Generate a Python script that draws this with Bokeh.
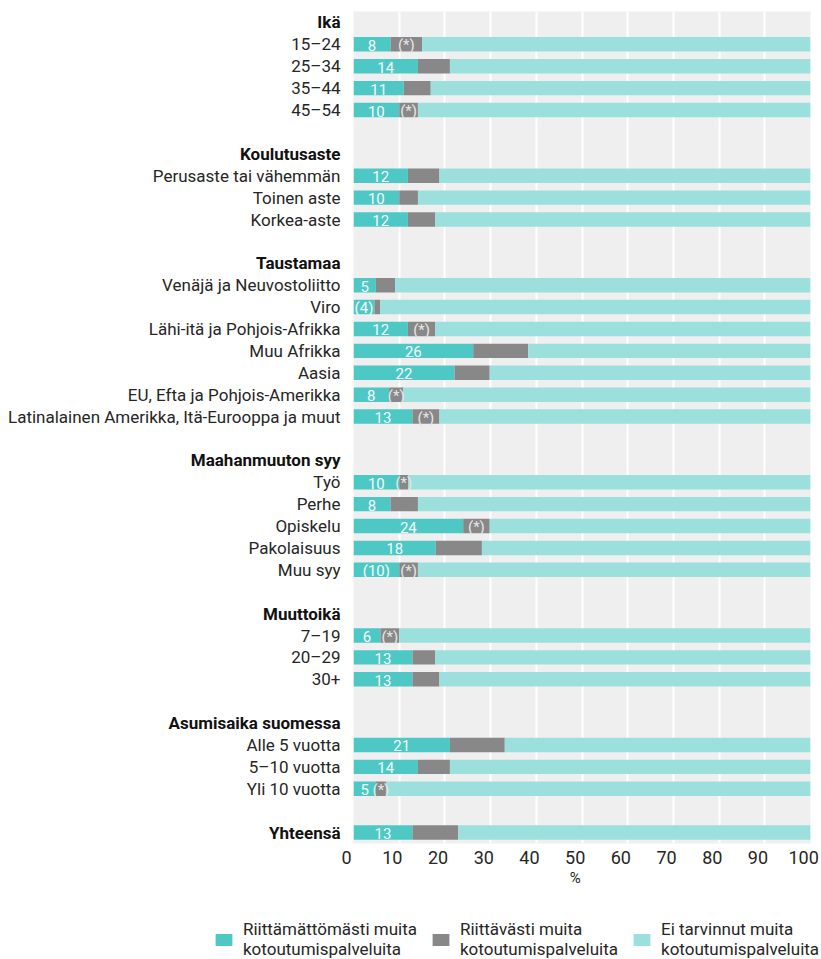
from bokeh.plotting import figure
from bokeh.models import (ColumnDataSource, Range1d, LinearAxis, FixedTicker,
                          Legend, LegendItem, Grid)
from bokeh.layouts import row, column
from bokeh.core.properties import value
from bokeh.embed import file_html
from bokeh.resources import INLINE

FONT = "Roboto"
C_INSUF = "#4ec8c4"
C_SUF = "#888888"
C_NONE = "#9be0dd"
TXT = "#262626"

series_names = ["Riittämättömästi muita\nkotoutumispalveluita",
                "Riittävästi muita\nkotoutumispalveluita",
                "Ei tarvinnut muita\nkotoutumispalveluita"]

x_ticks = [0, 10, 20, 30, 40, 50, 60, 70, 80, 90, 100]
x_unit = "%"

# ---- data (percent) ----
ika_title = "Ikä"
ika_items = ["15–24", "25–34", "35–44", "45–54"]
ika_insufficient = [8.1, 14.1, 11.0, 10.0]
ika_sufficient = [6.9, 7.0, 5.9, 4.1]
ika_not_needed = [85.0, 78.9, 83.1, 85.9]
ika_labels = ["8", "14", "11", "10"]
ika_flags = ["(*)", "", "", "(*)"]

koulutus_title = "Koulutusaste"
koulutus_items = ["Perusaste tai vähemmän", "Toinen aste", "Korkea-aste"]
koulutus_insufficient = [11.9, 10.0, 11.9]
koulutus_sufficient = [6.9, 4.1, 6.0]
koulutus_not_needed = [81.2, 85.9, 82.1]
koulutus_labels = ["12", "10", "12"]
koulutus_flags = ["", "", ""]

tausta_title = "Taustamaa"
tausta_items = ["Venäjä ja Neuvostoliitto", "Viro", "Lähi-itä ja Pohjois-Afrikka",
                "Muu Afrikka", "Aasia", "EU, Efta ja Pohjois-Amerikka",
                "Latinalainen Amerikka, Itä-Eurooppa ja muut"]
tausta_insufficient = [4.9, 4.6, 11.9, 26.2, 22.1, 7.8, 12.9]
tausta_sufficient = [4.2, 1.2, 6.0, 12.0, 7.7, 3.1, 5.9]
tausta_not_needed = [90.9, 94.2, 82.1, 61.8, 70.2, 89.1, 81.2]
tausta_labels = ["5", "(4)", "12", "26", "22", "8", "13"]
tausta_flags = ["", "", "(*)", "", "", "(*)", "(*)"]

syy_title = "Maahanmuuton syy"
syy_items = ["Työ", "Perhe", "Opiskelu", "Pakolaisuus", "Muu syy"]
syy_insufficient = [10.0, 8.1, 24.0, 18.0, 10.0]
syy_sufficient = [2.0, 6.0, 5.8, 10.1, 4.1]
syy_not_needed = [88.0, 85.9, 70.2, 71.9, 85.9]
syy_labels = ["10", "8", "24", "18", "(10)"]
syy_flags = ["(*)", "", "(*)", "", "(*)"]

muuttoika_title = "Muuttoikä"
muuttoika_items = ["7–19", "20–29", "30+"]
muuttoika_insufficient = [5.9, 12.9, 12.9]
muuttoika_sufficient = [4.1, 5.0, 5.9]
muuttoika_not_needed = [90.0, 82.1, 81.2]
muuttoika_labels = ["6", "13", "13"]
muuttoika_flags = ["(*)", "", ""]

asumis_title = "Asumisaika suomessa"
asumis_items = ["Alle 5 vuotta", "5–10 vuotta", "Yli 10 vuotta"]
asumis_insufficient = [21.1, 14.1, 4.9]
asumis_sufficient = [12.0, 7.0, 2.2]
asumis_not_needed = [66.9, 78.9, 92.9]
asumis_labels = ["21", "14", "5"]
asumis_flags = ["", "", "(*)"]

total_title = "Yhteensä"
total_insufficient = [12.9]
total_sufficient = [10.0]
total_not_needed = [77.1]
total_labels = ["13"]
total_flags = [""]

groups = [
    (ika_title, ika_items, ika_insufficient, ika_sufficient, ika_not_needed, ika_labels, ika_flags),
    (koulutus_title, koulutus_items, koulutus_insufficient, koulutus_sufficient, koulutus_not_needed, koulutus_labels, koulutus_flags),
    (tausta_title, tausta_items, tausta_insufficient, tausta_sufficient, tausta_not_needed, tausta_labels, tausta_flags),
    (syy_title, syy_items, syy_insufficient, syy_sufficient, syy_not_needed, syy_labels, syy_flags),
    (muuttoika_title, muuttoika_items, muuttoika_insufficient, muuttoika_sufficient, muuttoika_not_needed, muuttoika_labels, muuttoika_flags),
    (asumis_title, asumis_items, asumis_insufficient, asumis_sufficient, asumis_not_needed, asumis_labels, asumis_flags),
]

# ---- build row layout ----
head_y, head_text = [], []
item_y, item_text = [], []
bar = dict(y=[], a=[], b=[], c=[], la=[], lb=[], xa=[], xb=[])


def add_bar(r, ins, suf, nn, la, lb):
    bar["y"].append(r)
    bar["a"].append(ins)
    bar["b"].append(suf)
    bar["c"].append(nn)
    bar["la"].append(la)
    bar["lb"].append(lb)
    bar["xa"].append(ins / 2)
    bar["xb"].append(ins + suf / 2)


r = 0
for title, items, ins, suf, nn, labs, flags in groups:
    head_y.append(r)
    head_text.append(title)
    r += 1
    for k, it in enumerate(items):
        item_y.append(r)
        item_text.append(it)
        add_bar(r, ins[k], suf[k], nn[k], labs[k], flags[k])
        r += 1
    r += 1
head_y.append(r)
head_text.append(total_title)
add_bar(r, total_insufficient[0], total_sufficient[0], total_not_needed[0],
        total_labels[0], total_flags[0])
n_rows = r + 1

yr = Range1d(n_rows - 0.5, -0.5)
src = ColumnDataSource(bar)

TOP = 11
BOTTOM = 60
H = TOP + 832 + BOTTOM
LEFT_W = 353
FRAME_W = 457
SHIFT = 1.5  # tick labels sit slightly left of their grid lines


def tick_axis(rng_name, ticks, size, standoff, overrides=None):
    ax = LinearAxis(x_range_name=rng_name, ticker=FixedTicker(ticks=ticks),
                    axis_line_color=None, major_tick_line_color=None,
                    minor_tick_line_color=None, major_tick_out=0,
                    major_tick_in=0, major_label_standoff=standoff,
                    major_label_text_font=FONT,
                    major_label_text_font_size=size,
                    major_label_text_color=TXT)
    if overrides:
        ax.major_label_overrides = overrides
    return ax


# ---- left label panel ----
pleft = figure(width=LEFT_W, height=H, x_range=Range1d(0, 1), y_range=yr,
               output_backend="svg", toolbar_location=None,
               x_axis_location=None, y_axis_location=None,
               min_border_left=0, min_border_right=0,
               min_border_top=TOP, min_border_bottom=BOTTOM,
               outline_line_color=None, background_fill_color="white",
               border_fill_color="white")
pleft.grid.visible = False
pleft.text(x=1, y=item_y, text=item_text, text_align="right",
           text_baseline="middle", x_offset=-13, y_offset=0,
           text_font=value(FONT), text_font_size="17px", text_color=TXT)
pleft.text(x=1, y=head_y, text=head_text, text_align="right",
           text_baseline="middle", x_offset=-13, y_offset=0,
           text_font=value(FONT), text_font_size="17px",
           text_font_style="bold", text_color="#111111")
# the "0" tick label sits just left of the bar panel
px_per_unit = FRAME_W / 100.0
zero_pos = LEFT_W - SHIFT * px_per_unit
pleft.extra_x_ranges = {"zero": Range1d(-zero_pos / px_per_unit,
                                        (LEFT_W - zero_pos) / px_per_unit)}
pleft.add_layout(tick_axis("zero", [0], "18px", 7), "below")

# ---- bar panel ----
pr = figure(width=821 - LEFT_W, height=H, x_range=Range1d(0, 100), y_range=yr,
            output_backend="svg", toolbar_location=None,
            x_axis_location=None, y_axis_location=None,
            min_border_left=0, min_border_right=821 - LEFT_W - FRAME_W,
            min_border_top=TOP, min_border_bottom=BOTTOM,
            background_fill_color="#efefef", border_fill_color="white",
            outline_line_color=None)
pr.grid.visible = False
pr.add_layout(Grid(dimension=0, ticker=FixedTicker(ticks=x_ticks),
                   grid_line_color="white", grid_line_width=2))

pr.hbar_stack(["a", "b", "c"], y="y", height=0.66,
              color=[C_INSUF, C_SUF, C_NONE], line_color=None, source=src)
pr.text(x="xa", y="y", text="la", source=src, text_align="center",
        text_baseline="middle", y_offset=1, text_font=value(FONT),
        text_font_size="15px", text_color="#f4fbfb")
pr.text(x="xb", y="y", text="lb", source=src, text_align="center",
        text_baseline="middle", y_offset=1, text_font=value(FONT),
        text_font_size="15px", text_color="#e6e6e6")

pr.extra_x_ranges = {"lab": Range1d(SHIFT, 100 + SHIFT)}
pr.add_layout(tick_axis("lab", x_ticks[1:], "18px", 7), "below")
pr.add_layout(tick_axis("lab", [50], "15px", 2, {50: x_unit}), "below")

# ---- legend panel ----
pl = figure(width=821, height=56, x_range=Range1d(0, 1), y_range=Range1d(0, 1),
            output_backend="svg", toolbar_location=None,
            x_axis_location=None, y_axis_location=None, min_border=0,
            outline_line_color=None, background_fill_color="white",
            border_fill_color="white")
pl.grid.visible = False
leg_r = [pl.hbar(y=[0.5], left=[0], right=[0], height=0.5, color=c,
                 line_color=None)
         for c in [C_INSUF, C_SUF, C_NONE]]
legend = Legend(items=[LegendItem(label=n, renderers=[rr])
                       for n, rr in zip(series_names, leg_r)],
                orientation="horizontal", location=(213, 0),
                glyph_width=21, glyph_height=15, label_standoff=9,
                spacing=13, padding=0, margin=0, border_line_color=None,
                background_fill_alpha=0, label_text_font=FONT,
                label_text_font_size="17px", label_text_color=TXT,
                label_text_line_height=1.2)
pl.add_layout(legend, "center")

layout = column(row(pleft, pr), pl)
open("out.html", "w").write(file_html(layout, INLINE))
